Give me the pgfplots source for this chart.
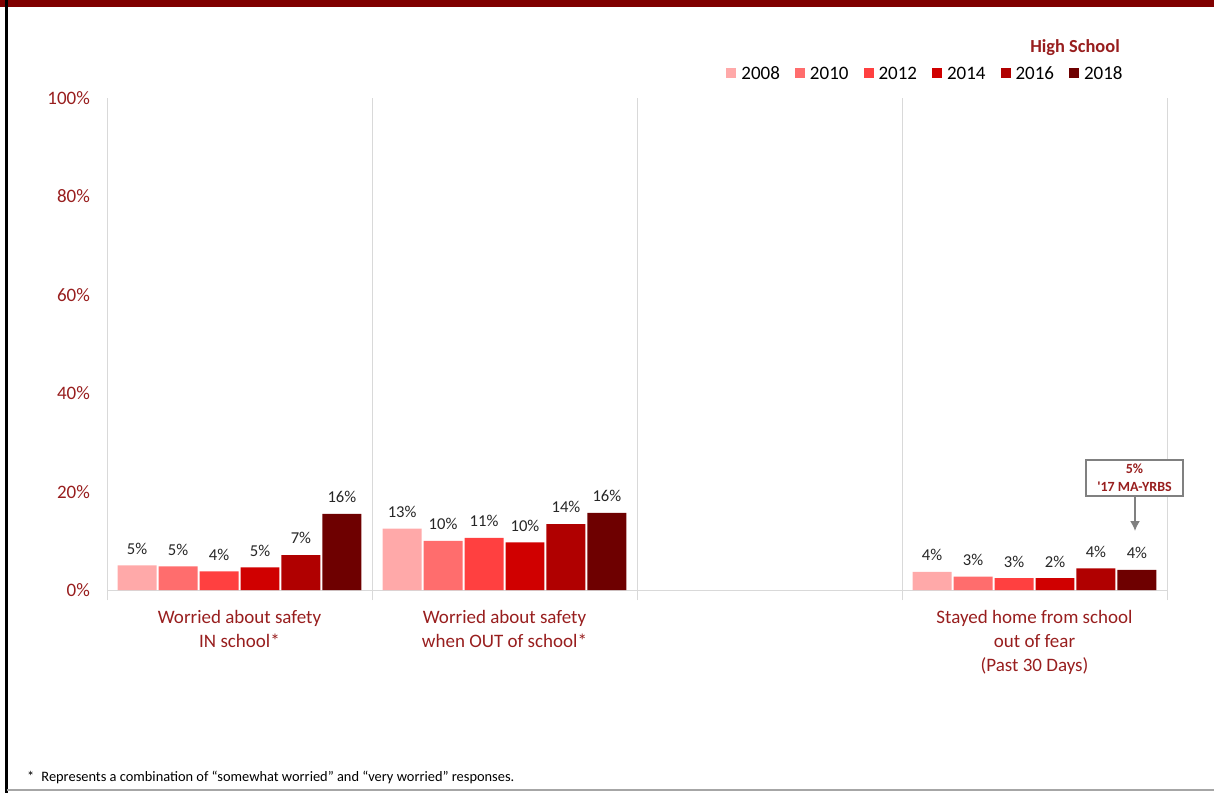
\documentclass[border=0pt]{standalone}
\usepackage{pgfplots}
\pgfplotsset{compat=1.18}
\usepackage{pgfplotstable}
\usetikzlibrary{arrows.meta}
\usepackage{fontspec}
\setmainfont{Carlito}
\definecolor{cA}{HTML}{FFA9A9}
\definecolor{cB}{HTML}{FF6D6D}
\definecolor{cC}{HTML}{FF4040}
\definecolor{cD}{HTML}{D00000}
\definecolor{cE}{HTML}{B00000}
\definecolor{cF}{HTML}{6E0000}
\definecolor{txtred}{HTML}{981E1E}
\definecolor{topred}{HTML}{800000}
\definecolor{gridg}{HTML}{D9D9D9}
\definecolor{lab}{HTML}{262626}

\pgfplotstableread{
x y m
0 5.0 5
1 12.5 13
3 3.7 4
}\tA
\pgfplotstableread{
x y m
0 4.8 5
1 10.0 10
3 2.7 3
}\tB
\pgfplotstableread{
x y m
0 3.8 4
1 10.6 11
3 2.4 3
}\tC
\pgfplotstableread{
x y m
0 4.6 5
1 9.7 10
3 2.4 2
}\tD
\pgfplotstableread{
x y m
0 7.1 7
1 13.4 14
3 4.4 4
}\tE
\pgfplotstableread{
x y m
0 15.5 16
1 15.7 16
3 4.1 4
}\tF

\begin{document}
\begin{tikzpicture}
\begin{scope}[x=0.5pt,y=-0.5pt]
\fill[topred] (0,0) rectangle (1214,6.5);
\fill[black] (5,0) rectangle (7.5,793);
\draw[gray!70, line width=0.6pt] (7,790) -- (1214,790);
\end{scope}

\begin{axis}[
  at={(53.5pt,-295pt)}, anchor=south west,
  width=530pt, height=246pt, scale only axis,
  ybar=1pt, bar width=0.147,
  xmin=-0.5, xmax=3.5, ymin=0, ymax=100,
  axis line style={draw=none},
  tick style={draw=none},
  clip=false,
  xtick={0,1,2,3},
  xticklabels={{Worried about safety\\IN school*},{Worried about safety\\when OUT of school*},{},{Stayed home from school\\out of fear\\(Past 30 Days)}},
  xticklabel style={align=center, text=txtred, font=\fontsize{9.5}{12}\selectfont, yshift=-6.5pt},
  major tick length=0pt,
  ytick={0,20,40,60,80,100},
  yticklabels={0\%,20\%,40\%,60\%,80\%,100\%},
  yticklabel style={text=txtred, font=\fontsize{9.5}{12}\selectfont, xshift=-5pt},
  nodes near coords={\pgfplotspointmeta\%},
  point meta=explicit symbolic,
  nodes near coords style={font=\fontsize{8.3}{10}\selectfont, text=lab, yshift=2pt},
  legend columns=6,
  legend cell align=left,
  legend style={at={(0.7736,1.0508)}, anchor=center, draw=none, fill=none,
    font=\fontsize{9.5}{11}\selectfont, inner sep=0pt,
    /tikz/every even column/.append style={column sep=5pt},
    nodes={inner ysep=1.5pt, inner xsep=2.5pt, text height=6.5pt, text depth=0pt}},
  legend image code/.code={\fill[#1] (0pt,-2.5pt) rectangle (5pt,2.5pt);},
]
\foreach \g in {-0.5,0.5,1.5,2.5,3.5} {
  \edef\tmp{\noexpand\draw[gridg, line width=0.5pt] ([yshift=-5pt]axis cs:\g,0) -- (axis cs:\g,100);}
  \tmp
}
\draw[gridg, line width=0.5pt] (axis cs:-0.5,0) -- (axis cs:3.5,0);
\addplot[fill=cA, draw=none] table[x=x,y=y,meta=m] {\tA};
\addplot[fill=cB, draw=none] table[x=x,y=y,meta=m] {\tB};
\addplot[fill=cC, draw=none] table[x=x,y=y,meta=m] {\tC};
\addplot[fill=cD, draw=none] table[x=x,y=y,meta=m] {\tD};
\addplot[fill=cE, draw=none] table[x=x,y=y,meta=m] {\tE};
\addplot[fill=cF, draw=none] table[x=x,y=y,meta=m] {\tF};
\legend{2008,2010,2012,2014,2016,2018}
\end{axis}

\begin{scope}[x=0.5pt,y=-0.5pt]
\node[text=txtred, font=\bfseries\fontsize{9.2}{11}\selectfont] at (1075,48) {High School};
\draw[gray, line width=0.6pt, fill=white] (1086,460) rectangle (1183,496);
\node[text=txtred, font=\bfseries\fontsize{7}{9}\selectfont, align=center] at (1134.5,478) {5\%\\\textquotesingle17 MA-YRBS};
\draw[gray, line width=0.8pt, -{Latex[length=5pt,width=5pt]}] (1135,496) -- (1135,531);
\node[anchor=west, font=\fontsize{7.2}{9}\selectfont, text=black] at (20,777) {*\enspace Represents a combination of “somewhat worried” and “very worried” responses.};
\pgfresetboundingbox
\path (0,0) rectangle (1214,793);
\end{scope}
\end{tikzpicture}
\end{document}
